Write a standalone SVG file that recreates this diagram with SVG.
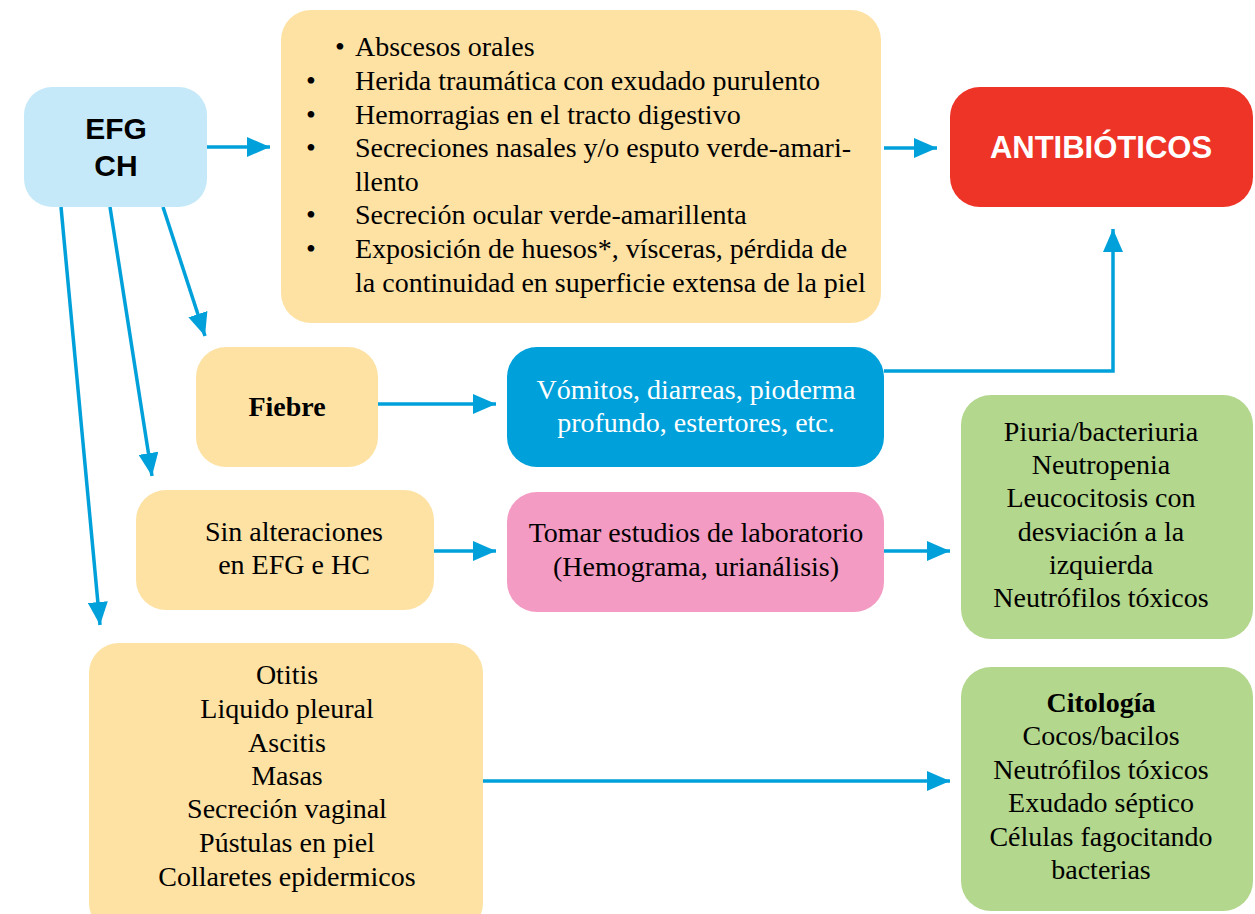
<svg xmlns="http://www.w3.org/2000/svg" width="1255" height="914" viewBox="0 0 1255 914">
<style>
.box{stroke:none}
.yel{fill:#FDE2A4}
.serif{font-family:"Liberation Serif","Times New Roman",serif;font-size:28px;fill:#000}
.c{text-anchor:middle}
.sans{font-family:"Liberation Sans",Arial,sans-serif;font-weight:bold}
.conn{stroke:#00A1DB;stroke-width:3.5;fill:none}
</style>
<defs>
<marker id="ah" markerUnits="userSpaceOnUse" markerWidth="24" markerHeight="20" viewBox="0 0 24 20" refX="23" refY="10" orient="auto">
<path d="M0,0 L23,10 L0,20 Z" fill="#00A1DB"/>
</marker>
</defs>
<rect width="1255" height="914" fill="#fff"/>

<g id="connectors">
<line class="conn" x1="207" y1="147" x2="270" y2="147" marker-end="url(#ah)"/>
<line class="conn" x1="884" y1="148" x2="937" y2="148" marker-end="url(#ah)"/>
<line class="conn" x1="163" y1="207" x2="205" y2="336" marker-end="url(#ah)"/>
<line class="conn" x1="110" y1="207" x2="152" y2="476" marker-end="url(#ah)"/>
<line class="conn" x1="61" y1="207" x2="100" y2="625" marker-end="url(#ah)"/>
<line class="conn" x1="378" y1="404" x2="496" y2="404" marker-end="url(#ah)"/>
<polyline class="conn" points="884,371 1113,371 1113,229" marker-end="url(#ah)"/>
<line class="conn" x1="434" y1="551" x2="496" y2="551" marker-end="url(#ah)"/>
<line class="conn" x1="884" y1="551" x2="950" y2="551" marker-end="url(#ah)"/>
<line class="conn" x1="483" y1="781" x2="950" y2="781" marker-end="url(#ah)"/>
</g>

<g id="efg">
<rect class="box" x="24" y="87" width="183" height="120" rx="28" fill="#C6E9F9"/>
<text class="sans c" x="116" y="139" font-size="30" fill="#000">EFG</text>
<text class="sans c" x="116" y="176" font-size="30" fill="#000">CH</text>
</g>

<g id="signos">
<rect class="box yel" x="281" y="10" width="600" height="313" rx="30"/>
<g class="serif">
<text x="335" y="56">•</text><text x="355" y="56">Abscesos orales</text>
<text x="306" y="90">•</text><text x="355" y="90">Herida traumática con exudado purulento</text>
<text x="306" y="124">•</text><text x="355" y="124">Hemorragias en el tracto digestivo</text>
<text x="306" y="157">•</text><text x="355" y="157">Secreciones nasales y/o esputo verde-amari-</text>
<text x="355" y="191">llento</text>
<text x="306" y="224">•</text><text x="355" y="224">Secreción ocular verde-amarillenta</text>
<text x="306" y="258">•</text><text x="355" y="258">Exposición de huesos*, vísceras, pérdida de</text>
<text x="355" y="292">la continuidad en superficie extensa de la piel</text>
</g>
</g>

<g id="antibioticos">
<rect class="box" x="950" y="87" width="303" height="120" rx="30" fill="#EE3327"/>
<text class="sans c" x="1101" y="158" font-size="31" fill="#fff">ANTIBIÓTICOS</text>
</g>

<g id="fiebre">
<rect class="box yel" x="196" y="347" width="182" height="120" rx="30"/>
<text class="serif c" x="287" y="416" font-weight="bold">Fiebre</text>
</g>

<g id="vomitos">
<rect class="box" x="507" y="347" width="377" height="120" rx="30" fill="#00A1DB"/>
<text class="serif c" x="696" y="399" style="fill:#fff">Vómitos, diarreas, pioderma</text>
<text class="serif c" x="696" y="432" style="fill:#fff">profundo, estertores, etc.</text>
</g>

<g id="sinalteraciones">
<rect class="box yel" x="136" y="490" width="298" height="120" rx="30"/>
<text class="serif c" x="294" y="541">Sin alteraciones</text>
<text class="serif c" x="294" y="574">en EFG e HC</text>
</g>

<g id="tomar">
<rect class="box" x="507" y="492" width="377" height="120" rx="30" fill="#F39BC2"/>
<text class="serif c" x="696" y="542">Tomar estudios de laboratorio</text>
<text class="serif c" x="696" y="576">(Hemograma, urianálisis)</text>
</g>

<g id="hemograma">
<rect class="box" x="961" y="395" width="292" height="244" rx="30" fill="#B3D78D"/>
<g class="serif c">
<text x="1101" y="441">Piuria/bacteriuria</text>
<text x="1101" y="474">Neutropenia</text>
<text x="1101" y="507">Leucocitosis con</text>
<text x="1101" y="541">desviación a la</text>
<text x="1101" y="574">izquierda</text>
<text x="1101" y="607">Neutrófilos tóxicos</text>
</g>
</g>

<g id="otitis">
<rect class="box yel" x="89" y="643" width="394" height="290" rx="30"/>
<g class="serif c">
<text x="287" y="684">Otitis</text>
<text x="287" y="718">Liquido pleural</text>
<text x="287" y="752">Ascitis</text>
<text x="287" y="785">Masas</text>
<text x="287" y="818">Secreción vaginal</text>
<text x="287" y="852">Pústulas en piel</text>
<text x="287" y="886">Collaretes epidermicos</text>
</g>
</g>

<g id="citologia">
<rect class="box" x="961" y="667" width="292" height="244" rx="30" fill="#B3D78D"/>
<g class="serif c">
<text x="1101" y="712" font-weight="bold">Citología</text>
<text x="1101" y="745">Cocos/bacilos</text>
<text x="1101" y="779">Neutrófilos tóxicos</text>
<text x="1101" y="812">Exudado séptico</text>
<text x="1101" y="846">Células fagocitando</text>
<text x="1101" y="879">bacterias</text>
</g>
</g>
</svg>
